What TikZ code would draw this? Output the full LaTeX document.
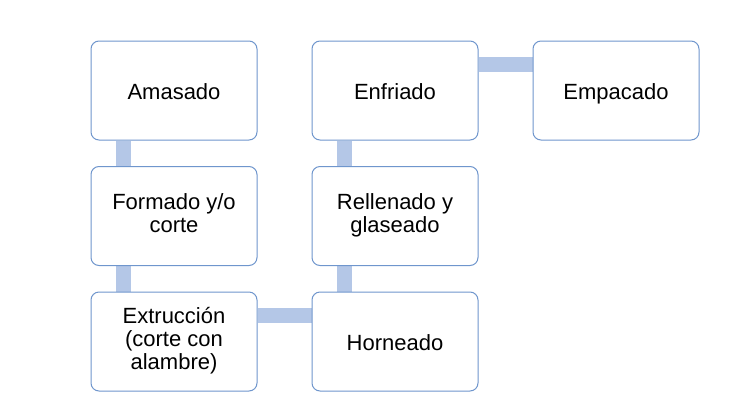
\documentclass[tikz,border=0pt]{standalone}
\usepackage{fontspec}
\setmainfont{Liberation Sans}
\usetikzlibrary{positioning}
\usetikzlibrary{backgrounds}

\definecolor{rahmen}{RGB}{111,150,205}
\definecolor{balken}{RGB}{180,199,231}

\tikzset{
	paso/.style={draw=rahmen, line width=1pt, fill=white, rounded corners=8pt,
		minimum width=166pt, minimum height=99pt, align=center,
		font=\fontsize{22}{23}\selectfont,
		execute at begin node=\rule{0pt}{24pt}, execute at end node=\strut},
	union/.style={draw=balken, line width=15pt}
}

\begin{document}
\begin{tikzpicture}[x=1pt, y=1pt, node distance=25.5pt and 54pt]
\useasboundingbox (0,0) rectangle (732,-416);

% Pasos
\node[paso] (amasado) at (174,-90.5) {Amasado};
\node[paso, below=of amasado] (formado) {Formado y/o\\corte};
\node[paso, below=of formado] (extrucc) {Extrucción\\(corte con\\alambre)};
\node[paso, right=of extrucc] (horneado) {Horneado};
\node[paso, above=of horneado] (rellenado) {Rellenado y\\glaseado};
\node[paso, above=of rellenado] (enfriado) {Enfriado};
\node[paso, right=of enfriado] (empacado) {Empacado};

% Uniones
\begin{scope}[on background layer]
	\draw[union] ([xshift=33pt]amasado.south west) -- ([xshift=33pt]formado.north west);
	\draw[union] ([xshift=33pt]formado.south west) -- ([xshift=33pt]extrucc.north west);
	\draw[union] ([yshift=-24pt]extrucc.north east) -- ([yshift=-24pt]horneado.north west);
	\draw[union] ([xshift=33pt]horneado.north west) -- ([xshift=33pt]rellenado.south west);
	\draw[union] ([xshift=33pt]rellenado.north west) -- ([xshift=33pt]enfriado.south west);
	\draw[union] ([yshift=-24pt]enfriado.north east) -- ([yshift=-24pt]empacado.north west);
\end{scope}
\end{tikzpicture}
\end{document}
